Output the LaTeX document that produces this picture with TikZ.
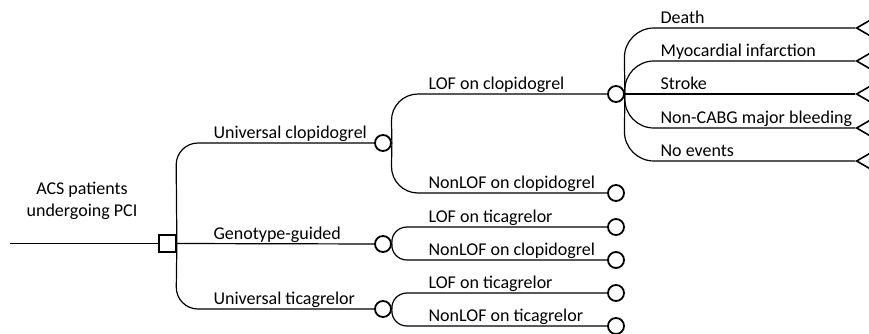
\documentclass[tikz,border=0pt]{standalone}
\usepackage{fontspec}
\setmainfont{Carlito}
\usetikzlibrary{shapes.geometric}
\begin{document}
\begin{tikzpicture}[x=1pt,y=-1pt,
  line width=1.2pt,
  decision/.style={draw,rectangle,line width=1.7pt,minimum size=17pt,inner sep=0pt},
  chance/.style={draw,circle,line width=1.8pt,minimum size=16pt,inner sep=0pt},
  terminal/.style={draw,isosceles triangle,isosceles triangle apex angle=60,shape border rotate=180,line width=1.6pt,minimum size=16pt,inner sep=0pt,anchor=apex},
  lbl/.style={anchor=base west,inner sep=0pt,font=\fontsize{18}{22}\selectfont},
  rootlbl/.style={align=center,inner sep=0pt,font=\fontsize{18}{22}\selectfont}
]
\useasboundingbox (0,0) rectangle (869,333);

% nodes
\coordinate (start) at (10,243.5);
\node[decision] (sq) at (167.5,243.5) {};
\node[chance] (c1) at (383,143) {};
\node[chance] (c2) at (383,244) {};
\node[chance] (c3) at (383,309) {};
\node[chance] (c11) at (616,94) {};
\node[chance] (c12) at (616,193) {};
\node[chance] (c21) at (616,227) {};
\node[chance] (c22) at (616,260) {};
\node[chance] (c31) at (616,293) {};
\node[chance] (c32) at (616,326) {};
\node[terminal] (t1) at (855,28) {};
\node[terminal] (t2) at (855,61) {};
\node[terminal] (t3) at (855,94) {};
\node[terminal] (t4) at (855,128) {};
\node[terminal] (t5) at (855,161) {};

% labels
\node[rootlbl,anchor=base] (root) at (82,216) {ACS patients\\undergoing PCI};
\node[lbl] (l1) at (213,138) {Universal clopidogrel};
\node[lbl] (l2) at (213,239) {Genotype-guided};
\node[lbl] (l3) at (213,304) {Universal ticagrelor};
\node[lbl] (l11) at (428,89) {LOF on clopidogrel};
\node[lbl] (l12) at (428,188) {NonLOF on clopidogrel};
\node[lbl] (l21) at (428,222) {LOF on ticagrelor};
\node[lbl] (l22) at (428,255) {NonLOF on clopidogrel};
\node[lbl] (l31) at (428,288) {LOF on ticagrelor};
\node[lbl] (l32) at (428,321) {NonLOF on ticagrelor};
\node[lbl] (o1) at (660,23) {Death};
\node[lbl] (o2) at (660,56) {Myocardial infarction};
\node[lbl] (o3) at (660,89) {Stroke};
\node[lbl] (o4) at (660,123) {Non-CABG major bleeding};
\node[lbl] (o5) at (660,156) {No events};

% connectors
\draw (start) -- (sq.west);
\draw[rounded corners=22pt] (sq.east) -- (176,143) -- (c1);
\draw (sq.east) -- (c2);
\draw[rounded corners=22pt] (sq.east) -- (176,309) -- (c3);

\draw[rounded corners=27pt] (c1.east) -- (391,94) -- (c11);
\draw[rounded corners=27pt] (c1.east) -- (391,193) -- (c12);
\draw[rounded corners=16pt] (c2.east) -- (391,227) -- (c21);
\draw[rounded corners=16pt] (c2.east) -- (391,260) -- (c22);
\draw[rounded corners=16pt] (c3.east) -- (391,293) -- (c31);
\draw[rounded corners=16pt] (c3.east) -- (391,326) -- (c32);

\draw[rounded corners=30pt] (c11.east) -- (624,28) -- (t1.apex);
\draw[rounded corners=30pt] (c11.east) -- (624,61) -- (t2.apex);
\draw (c11.east) -- (t3.apex);
\draw[rounded corners=30pt] (c11.east) -- (624,128) -- (t4.apex);
\draw[rounded corners=30pt] (c11.east) -- (624,161) -- (t5.apex);
\end{tikzpicture}
\end{document}
